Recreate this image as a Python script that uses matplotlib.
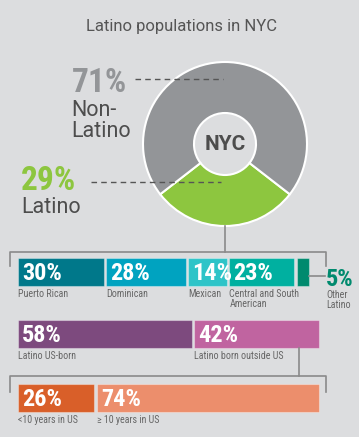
import matplotlib.pyplot as plt
import numpy as np

plt.rcParams['font.family'] = ['Roboto', 'DejaVu Sans']

# data
nyc_labels = ['Latino', 'Non-\nLatino']
nyc_shares = [29, 71]

origin_labels = ['Puerto Rican', 'Dominican', 'Mexican', 'Central and South\nAmerican', 'Other\nLatino']
origin_values = [30, 28, 14, 23, 5]

birth_labels = ['Latino US-born', 'Latino born outside US']
birth_values = [58, 42]

years_labels = ['<10 years in US', '\u2265 10 years in US']
years_values = [26, 74]

# styles
bg = '#dcdddf'
green = '#8dc63f'
gray = '#939598'
dark = '#4d4d4d'
line_col = '#8a8a8a'
origin_colors = ['#00788a', '#00a3c0', '#2ec4c8', '#00b0a0', '#008a6e']
birth_colors = ['#7d4a7e', '#c064a0']
years_colors = ['#d95f29', '#ec8e6c']
narrow = ['Roboto Condensed', 'Barlow Condensed', 'Archivo Narrow', 'Oswald', 'DejaVu Sans']
small = ['Roboto Condensed', 'Roboto', 'DejaVu Sans']

fig = plt.figure(figsize=(3.59, 4.37), dpi=100, facecolor=bg)
ax = fig.add_axes([0, 0, 1, 1])
ax.set_facecolor(bg)

# donut
cx, cy = 225, 144
ax.pie(nyc_shares, colors=[green, gray], radius=82, center=(cx, cy), frame=True,
       startangle=90 - nyc_shares[0] * 1.8,
       wedgeprops=dict(width=51, edgecolor='white', linewidth=1.5))
ax.set_xlim(0, 359)
ax.set_ylim(437, 0)
ax.axis('off')

ax.text(181, 26, 'Latino populations in NYC', ha='center', va='center',
        fontsize=12, color='#555555')
ax.text(cx, cy + 1, 'NYC', ha='center', va='center', fontsize=15,
        fontweight='bold', color=dark)

# big labels beside the donut
ax.text(72, 92, f'{nyc_shares[1]}%', fontsize=24, fontweight='black', family=narrow,
        color=gray, va='baseline')
ax.text(71, 116, nyc_labels[1].split('\n')[0], fontsize=15.5, color=dark, va='baseline')
ax.text(71, 137, nyc_labels[1].split('\n')[1], fontsize=15.5, color=dark, va='baseline')
ax.plot([135, 223], [79, 79], ls=(0, (4, 3)), color='#555555', lw=1)

ax.text(21, 190, f'{nyc_shares[0]}%', fontsize=24, fontweight='black', family=narrow,
        color=green, va='baseline')
ax.text(21, 213, nyc_labels[0], fontsize=15.5, color=dark, va='baseline')
ax.plot([91, 221], [182, 182], ls=(0, (4, 3)), color='#555555', lw=1)


def bracket(x_from, y_from, y_bar, y_tick):
    ax.plot([x_from, x_from], [y_from, y_bar], color=line_col, lw=1.2)
    ax.plot([10, 10, 326, 326], [y_tick, y_bar, y_bar, y_tick], color=line_col, lw=1.2)


def bar_row(values, colors, labels, top, x0, x1, gap=2.5):
    scale = (x1 - x0 + gap) / sum(values)
    lefts = x0 + np.concatenate([[0], np.cumsum(values)[:-1]]) * scale
    widths = np.array(values) * scale - gap
    ax.barh(top + 14, widths, left=lefts, height=28, color=colors,
            edgecolor=(1, 1, 1, 0.35), linewidth=0.8)
    for v, l, w, c, lab in zip(values, lefts, widths, colors, labels):
        if w > 25:
            ax.text(l + 4, top + 22, f'{v}%', fontsize=17.5, fontweight='black',
                    family=narrow, color='white', va='baseline')
            ax.text(l, top + 31, lab, fontsize=7.2, family=small, color='#666666',
                    va='top', linespacing=1.05)
        else:
            # bar too narrow for its label: put it outside with a short leader
            ax.plot([l + w, 325], [top + 18, top + 18], color=line_col, lw=1.2)
            ax.text(326, top + 28, f'{v}%', fontsize=17.5, fontweight='black',
                    family=narrow, color=c, va='baseline')
            ax.text(326, top + 32, lab, fontsize=7.2, family=small, color='#666666',
                    va='top', linespacing=1.05)
    return lefts, widths


bracket(cx, cy + 82, 252, 266)
bar_row(origin_values, origin_colors, origin_labels, 258, 18, 309)
lefts, widths = bar_row(birth_values, birth_colors, birth_labels, 320, 18, 319)
bracket(lefts[1] + widths[1] * 0.84, 348, 376, 392)
bar_row(years_values, years_colors, years_labels, 384, 18, 319)

fig.savefig('out.png', dpi=100, facecolor=bg)
